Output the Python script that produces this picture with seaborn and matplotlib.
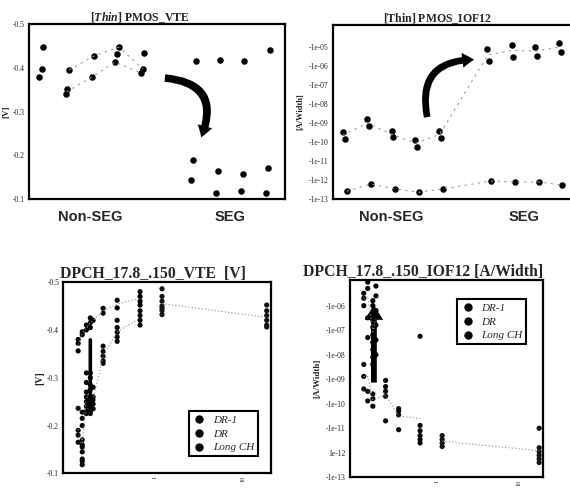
import numpy as np
import pandas as pd
import matplotlib
matplotlib.use('Agg')
import matplotlib.pyplot as plt
import seaborn as sns
from matplotlib.patches import FancyArrowPatch
from matplotlib.lines import Line2D

sns.set_style('white')
plt.rcParams['font.family'] = ['Liberation Serif', 'DejaVu Serif']
plt.rcParams['mathtext.fontset'] = 'custom'
plt.rcParams['mathtext.it'] = 'Liberation Serif:italic:bold'
plt.rcParams['mathtext.rm'] = 'Liberation Serif:bold'

# ---------------- 上左: [Thin] PMOS_VTE (x = 分组内位置, Non-SEG 0-4, SEG 6-9)
vte_slot = [-0.05, 0.08, 0.12, 1.03, 1.07, 1.15, 2.06, 2.13, 2.96, 3.04, 3.12, 3.99, 4.07, 4.11,
            6.17, 7.11, 8.06, 9.09,
            6.05, 5.97, 7.04, 6.96, 8.02, 7.94, 9.01, 8.93]
vte_val = [-0.379, -0.397, -0.447, -0.340, -0.351, -0.395, -0.379, -0.427, -0.413, -0.431, -0.447,
           -0.388, -0.397, -0.434,
           -0.415, -0.418, -0.415, -0.440,
           -0.190, -0.143, -0.164, -0.114, -0.157, -0.118, -0.170, -0.114]
vte_trend_a_slot = [1.05, 2.06, 2.96, 3.99]
vte_trend_a_val = [-0.345, -0.379, -0.413, -0.388]
vte_trend_b_slot = [1.15, 2.13, 3.12, 4.07]
vte_trend_b_val = [-0.395, -0.427, -0.447, -0.397]

# ---------------- 上右: [Thin] PMOS_IOF12 [A/Width]
iof_slot = [0.00, 0.08, 0.99, 1.07, 2.02, 2.07, 2.98, 3.06, 3.97, 4.05,
            5.95, 6.03, 6.98, 7.02, 7.93, 8.02, 8.93, 9.01,
            0.17, 1.16, 2.15, 3.14, 4.13, 6.12, 7.11, 8.10, 9.05]
iof_val = [3.4e-10, 1.4e-10, 1.6e-09, 6.9e-10, 3.8e-10, 1.8e-10, 1.3e-10, 5.5e-11, 3.8e-10, 1.6e-10,
           7.9e-06, 1.8e-06, 1.3e-05, 3.0e-06, 1.0e-05, 3.4e-06, 1.6e-05, 5.5e-06,
           2.6e-13, 6.2e-13, 3.4e-13, 2.3e-13, 3.4e-13, 8.9e-13, 7.9e-13, 7.9e-13, 5.5e-13]
iof_line_up_slot = [0.0, 1.0, 2.0, 3.0, 4.0, 6.0, 7.0, 8.0, 9.0]
iof_line_up_val = [2.2e-10, 1.0e-09, 2.6e-10, 8.5e-11, 2.5e-10, 3.8e-06, 6.3e-06, 5.9e-06, 1.0e-05]
iof_line_lo_slot = [0.17, 1.16, 2.15, 3.14, 4.13, 6.12, 7.11, 8.10, 9.05]
iof_line_lo_val = [2.6e-13, 6.2e-13, 3.4e-13, 2.3e-13, 3.4e-13, 8.9e-13, 7.9e-13, 7.9e-13, 5.5e-13]

# ---------------- 下左: DPCH_17.8_.150_VTE [V] vs Lg
vte_dr1_lg = [0.133, 0.133, 0.133, 0.148, 0.148, 0.165, 0.165, 0.183, 0.183, 0.183, 0.197,
              0.256, 0.256, 0.37, 0.37, 0.675, 0.675, 0.675, 0.675]
vte_dr1_v = [-0.380, -0.372, -0.356, -0.396, -0.390, -0.410, -0.400, -0.425, -0.415, -0.405, -0.420,
             -0.445, -0.435, -0.462, -0.446, -0.480, -0.470, -0.460, -0.452]
vte_dr_lg = [0.133, 0.133, 0.133, 0.133,
             0.148, 0.148, 0.148, 0.148, 0.148, 0.148, 0.148, 0.148, 0.148, 0.148,
             0.165, 0.165, 0.165, 0.165, 0.165, 0.165, 0.165, 0.165,
             0.183, 0.183, 0.183, 0.183, 0.183, 0.183, 0.183, 0.183, 0.183, 0.183,
             0.197, 0.197, 0.197, 0.197,
             0.256, 0.256, 0.256, 0.256, 0.256,
             0.37, 0.37, 0.37, 0.37, 0.37,
             0.675, 0.675, 0.675, 0.675]
vte_dr_v = [-0.236, -0.190, -0.180, -0.165,
            -0.228, -0.215, -0.200, -0.170, -0.160, -0.155, -0.145, -0.130, -0.125, -0.118,
            -0.310, -0.290, -0.270, -0.260, -0.250, -0.240, -0.230, -0.225,
            -0.310, -0.300, -0.285, -0.275, -0.260, -0.250, -0.240, -0.235, -0.230, -0.225,
            -0.280, -0.260, -0.245, -0.235,
            -0.366, -0.355, -0.345, -0.335, -0.330,
            -0.420, -0.405, -0.395, -0.385, -0.376,
            -0.440, -0.430, -0.420, -0.410]
vte_long_lg = [1.2, 1.2, 1.2, 1.2, 1.2, 1.2, 1.2, 18.7, 18.7, 18.7, 18.7, 18.7, 18.7]
vte_long_v = [-0.486, -0.470, -0.460, -0.450, -0.445, -0.440, -0.432,
              -0.452, -0.440, -0.430, -0.420, -0.410, -0.406]

# ---------------- 下右: DPCH_17.8_.150_IOF12 [A/Width] vs Lg
iof_dr1_lg = [0.128, 0.128, 0.128, 0.143, 0.143, 0.143,
              0.165, 0.165, 0.165, 0.165, 0.165, 0.165, 0.165, 0.165, 0.165, 0.165,
              0.18, 0.18, 0.18, 0.18, 0.18, 0.18]
iof_dr1_i = [3.2e-06, 2.0e-06, 1.0e-06, 9.1e-06, 5.0e-06, 3.2e-07,
             1.6e-06, 1.0e-06, 5.0e-07, 2.5e-07, 1.3e-07, 6.3e-08, 3.2e-08, 1.6e-08, 7.9e-09, 4.0e-09,
             6.3e-06, 2.5e-06, 6.3e-07, 1.6e-07, 4.0e-08, 1.0e-08]
iof_dr_lg = [0.128, 0.128, 0.128, 0.143, 0.143, 0.143, 0.165, 0.165, 0.165,
             0.236, 0.236, 0.236, 0.236, 0.236,
             0.34, 0.34, 0.34, 0.34,
             0.62, 0.62, 0.62, 0.62, 0.62, 0.62]
iof_dr_i = [4.0e-09, 1.3e-09, 4.0e-10, 5.0e-08, 3.2e-10, 1.3e-10, 2.5e-10, 1.6e-10, 7.9e-11,
            8.9e-10, 5.0e-10, 3.2e-10, 2.0e-10, 2.0e-11,
            6.3e-11, 5.0e-11, 3.5e-11, 8.7e-12,
            5.6e-08, 1.3e-11, 7.9e-12, 5.0e-12, 3.5e-12, 2.5e-12]
iof_long_lg = [1.15, 1.15, 1.15, 1.15, 17.4, 17.4, 17.4, 17.4, 17.4, 17.4]
iof_long_i = [5.0e-12, 3.5e-12, 2.5e-12, 1.8e-12, 1.0e-11, 1.6e-12, 1.1e-12, 7.9e-13, 5.6e-13, 4.0e-13]

groups = ['DR-1', 'DR', 'Long CH']
black = {'DR-1': '#000000', 'DR': '#0a0a0a', 'Long CH': '#141414'}
grey = {'DR-1': '#9a9a9a', 'DR': '#8a8a8a', 'Long CH': '#8a8a8a'}

df_vte = pd.DataFrame({'slot': vte_slot, 'val': vte_val})
df_iof = pd.DataFrame({'slot': iof_slot, 'val': iof_val})
df_vlg = pd.concat([
    pd.DataFrame({'Lg': vte_dr1_lg, 'v': vte_dr1_v, 'group': 'DR-1'}),
    pd.DataFrame({'Lg': vte_dr_lg, 'v': vte_dr_v, 'group': 'DR'}),
    pd.DataFrame({'Lg': vte_long_lg, 'v': vte_long_v, 'group': 'Long CH'}),
], ignore_index=True)
df_ilg = pd.concat([
    pd.DataFrame({'Lg': iof_dr1_lg, 'i': iof_dr1_i, 'group': 'DR-1'}),
    pd.DataFrame({'Lg': iof_dr_lg, 'i': iof_dr_i, 'group': 'DR'}),
    pd.DataFrame({'Lg': iof_long_lg, 'i': iof_long_i, 'group': 'Long CH'}),
], ignore_index=True)

fig = plt.figure(figsize=(5.7, 4.88), dpi=100)
ax1 = fig.add_axes([0.051, 0.592, 0.449, 0.359])
ax2 = fig.add_axes([0.584, 0.592, 0.428, 0.357])
ax3 = fig.add_axes([0.111, 0.03, 0.364, 0.392])
ax4 = fig.add_axes([0.614, 0.022, 0.339, 0.404])

title_font = dict(fontsize=8.5, fontweight='bold')
btitle_font = dict(fontsize=11.3, fontweight='bold')
cat_font = dict(family=['Liberation Sans', 'DejaVu Sans'], fontsize=10.5, fontweight='bold')

for ax in (ax1, ax2, ax3, ax4):
    for s in ax.spines.values():
        s.set_color('black')
        s.set_linewidth(1.6)
    ax.tick_params(labelsize=5.5, length=2, width=0.8, color='black', pad=1)

# 1. [Thin] PMOS_VTE
sns.lineplot(x=vte_trend_a_slot, y=vte_trend_a_val, ax=ax1, color='#999999', lw=0.8, ls=(0, (2, 4)), sort=False)
sns.lineplot(x=vte_trend_b_slot, y=vte_trend_b_val, ax=ax1, color='#999999', lw=0.8, ls=(0, (2, 4)), sort=False)
sns.scatterplot(data=df_vte, x='slot', y='val', ax=ax1, color='black', s=22, linewidth=0)
ax1.set_xlim(-0.43, 9.67)
ax1.set_ylim(-0.1, -0.5)
ax1.set_yticks([-0.5, -0.4, -0.3, -0.2, -0.1])
ax1.set_yticklabels(['-0.5', '-0.4', '-0.3', '-0.2', '-0.1'])
ax1.set_xticks([2, 7.5])
ax1.set_xticklabels(['Non-SEG', 'SEG'], **cat_font)
ax1.tick_params(axis='x', length=0, pad=8)
ax1.set_xlabel('')
ax1.set_ylabel('[V]', fontsize=6.5, fontweight='bold', labelpad=2)
ax1.set_title(r'[$\mathit{Thin}$] PMOS_VTE', pad=2, x=0.434, **title_font)
ax1.add_patch(FancyArrowPatch((4.82, -0.377), (6.32, -0.235), transform=ax1.transData,
                              connectionstyle='arc3,rad=-0.7',
                              arrowstyle='simple,head_width=0.9,head_length=0.7,tail_width=0.45',
                              mutation_scale=12, color='black', lw=0))

# 2. [Thin] PMOS_IOF12
sns.lineplot(x=iof_line_up_slot, y=iof_line_up_val, ax=ax2, color='#999999', lw=0.8, ls=(0, (2, 4)), sort=False)
sns.lineplot(x=iof_line_lo_slot, y=iof_line_lo_val, ax=ax2, color='#999999', lw=0.8, ls=(0, (2, 4)), sort=False)
sns.scatterplot(data=df_iof, x='slot', y='val', ax=ax2, color='black', s=22, linewidth=0)
ax2.set_yscale('log')
ax2.set_xlim(-0.41, 9.67)
ax2.set_ylim(1e-13, 1.4e-4)
dec = [1e-05, 1e-06, 1e-07, 1e-08, 1e-09, 1e-10, 1e-11, 1e-12, 1e-13]
ax2.set_yticks(dec)
ax2.set_yticklabels(['-1e-05', '-1e-06', '-1e-07', '-1e-08', '-1e-09', '-1e-10', '-1e-11', '-1e-12', '-1e-13'])
ax2.minorticks_off()
ax2.set_xticks([2, 7.5])
ax2.set_xticklabels(['Non-SEG', 'SEG'], **cat_font)
ax2.tick_params(axis='x', length=0, pad=8)
ax2.set_xlabel('')
ax2.set_ylabel('[A/Width]', fontsize=6, fontweight='bold', labelpad=3)
ax2.set_title(r'[$\mathrm{Thin}$] PMOS_IOF12', pad=2, x=0.43, **title_font)
ax2.add_patch(FancyArrowPatch((3.51, 1.45e-9), (5.54, 2.1e-6), transform=ax2.transData,
                              connectionstyle='arc3,rad=-0.63',
                              arrowstyle='simple,head_width=0.9,head_length=0.7,tail_width=0.4',
                              mutation_scale=12, color='black', lw=0))

# 3. DPCH VTE vs Lg
ax3.set_xscale('log')
sns.lineplot(data=df_vlg, x='Lg', y='v', hue='group', palette=grey, estimator='mean', errorbar=None,
             ax=ax3, lw=0.8, ls=(0, (1, 2)), legend=False)
sns.scatterplot(data=df_vlg, x='Lg', y='v', hue='group', palette=black, ax=ax3, s=14, linewidth=0, legend=False)
ax3.set_xlim(0.09, 20.8)
ax3.set_ylim(-0.112, -0.5)
ax3.set_yticks([-0.5, -0.4, -0.3, -0.2, -0.1])
ax3.set_yticklabels(['-0.5', '-0.4', '-0.3', '-0.2', '-0.1'])
ax3.set_xticks([1, 10])
ax3.set_xticklabels(['1', '10'], rotation=90)
ax3.minorticks_off()
ax3.tick_params(axis='x', labelsize=4.5, length=1.5, pad=0.5)
ax3.set_xlabel('')
ax3.set_ylabel('[V]', fontsize=7, fontweight='bold', labelpad=2)
ax3.set_title('DPCH_17.8_.150_VTE  [V]', pad=3, x=0.433, **btitle_font)
ax3.annotate('', xy=(0.183, -0.225), xytext=(0.183, -0.385),
             arrowprops=dict(arrowstyle='-|>,head_width=0.25,head_length=0.5', lw=2.6, color='black'))

# 4. DPCH IOF12 vs Lg
ax4.set_xscale('log')
ax4.set_yscale('log')
sns.lineplot(data=df_ilg, x='Lg', y='i', hue='group', palette=grey, estimator='mean', errorbar=None,
             ax=ax4, lw=0.8, ls=(0, (1, 2)), legend=False)
sns.scatterplot(data=df_ilg, x='Lg', y='i', hue='group', palette=black, ax=ax4, s=14, linewidth=0, legend=False)
ax4.set_xlim(0.087, 19.5)
ax4.set_ylim(1e-13, 1.1e-5)
ax4.set_yticks(dec[1:])
ax4.set_yticklabels(['-1e-06', '-1e-07', '-1e-08', '-1e-09', '-1e-10', '-1e-11', '1e-12', '-1e-13'])
ax4.set_xticks([1, 10])
ax4.set_xticklabels(['1', '10'], rotation=90)
ax4.minorticks_off()
ax4.tick_params(axis='x', labelsize=4.5, length=1.5, pad=0.5)
ax4.set_xlabel('')
ax4.set_ylabel('[A/Width]', fontsize=6.5, fontweight='bold', labelpad=3)
ax4.set_title('DPCH_17.8_.150_IOF12 [A/Width]', pad=3, x=0.38, **btitle_font)
ax4.add_patch(FancyArrowPatch((0.17, 5.6e-10), (0.17, 1.4e-6), transform=ax4.transData,
                              arrowstyle='simple,head_width=1.1,head_length=0.9,tail_width=0.35',
                              mutation_scale=12, color='black', lw=0))

handles = [Line2D([], [], marker='o', ls='', color='black', markersize=5) for _ in groups]
leg_kw = dict(prop={'style': 'italic', 'size': 8}, frameon=True, fancybox=False, edgecolor='black',
              framealpha=1, handletextpad=0.6, borderpad=0.35, labelspacing=0.35, handlelength=1.2)
lg3 = ax3.legend(handles, groups, loc='lower right', bbox_to_anchor=(0.965, 0.06), **leg_kw)
lg3.get_frame().set_linewidth(1.5)
lg4 = ax4.legend(handles, groups, loc='upper right', bbox_to_anchor=(0.94, 0.93), **leg_kw)
lg4.get_frame().set_linewidth(1.5)

fig.savefig('out.png', dpi=100)
